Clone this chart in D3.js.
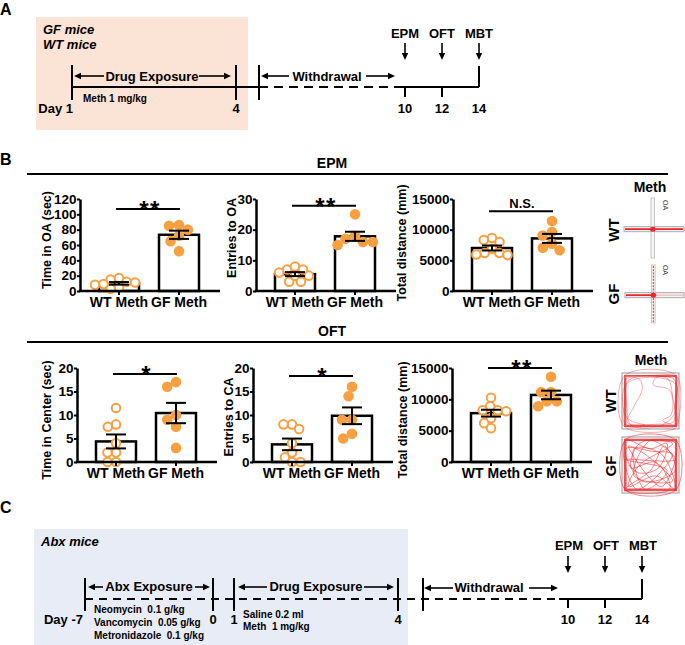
<!DOCTYPE html>
<html><head><meta charset="utf-8">
<script src="https://cdn.jsdelivr.net/npm/d3@7"></script>
<style>
body{margin:0;background:#fff}
svg{display:block;font-family:"Liberation Sans",Arial,sans-serif;font-weight:bold}
</style>
</head><body>
<svg id="c" width="685" height="645"></svg>
<script>
// ---------------- DATA ----------------
const groups = ["WT Meth", "GF Meth"];
// EPM
const epmTimeWT = [15, 5, 12, 8, 11, 17, 3, 9];
const epmTimeGF = [80, 85, 86, 72, 65, 52];
const epmEntriesWT = [7, 3, 6, 8, 5, 5, 7, 3];
const epmEntriesGF = [25, 18, 15, 17, 16, 16];
const epmDistWT = [8650, 8000, 8300, 6900, 6200, 6200, 5850, 5950];
const epmDistGF = [11400, 9600, 9050, 6650, 7700, 7050];
// OFT
const oftTimeWT = [11.5, 8, 7.5, 4, 2, 2, 0, 0];
const oftTimeGF = [17, 16, 9, 10, 7.5, 3];
const oftEntriesWT = [8, 0, 7, 4, 1, 8, 2, 0];
const oftEntriesGF = [16, 14, 9, 5, 9, 6];
const oftDistWT = [10250, 8250, 8100, 8250, 8900, 7000, 6200, 5400];
const oftDistGF = [13600, 11150, 11150, 8900, 9700, 9700];
// tick labels
const ticksTimeOA = [0, 20, 40, 60, 80, 100, 120];
const ticksEntriesOA = [0, 10, 20, 30];
const ticksDistance = [0, 5000, 10000, 15000];
const ticksTimeCenter = [0, 5, 10, 15, 20];
const ticksEntriesCA = [0, 5, 10, 15, 20];
// significance
const sigLabels = ["**", "**", "N.S.", "*", "*", "**"];
const sigLevels = [107, 27.8, 13000, 18.7, 18.3, 15000];
// timelines
const daysA = [1, 4, 10, 12, 14];
const daysC = [-7, 0, 1, 4, 10, 12, 14];
const tests = ["EPM", "OFT", "MBT"];
const testDays = [10, 12, 14];

// ---------------- SETUP ----------------
const svg = d3.select("#c");
const ORANGE = "#f6a041";
const RED = "#e8262b";

function txt(x, y, s, size, opts = {}) {
  const t = svg.append("text").attr("x", x).attr("y", y).text(s)
    .attr("font-size", size).attr("fill", opts.fill || "#000")
    .attr("text-anchor", opts.anchor || "start");
  if (opts.italic) t.attr("font-style", "italic");
  if (opts.weight) t.attr("font-weight", opts.weight);
  if (opts.rotate) t.attr("transform", `rotate(${opts.rotate},${x},${y})`);
  if (opts.ls) t.attr("letter-spacing", opts.ls);
  return t;
}
function line(x1, y1, x2, y2, w = 2, dash = null, color = "#000") {
  const l = svg.append("line").attr("x1", x1).attr("y1", y1).attr("x2", x2).attr("y2", y2)
    .attr("stroke", color).attr("stroke-width", w);
  if (dash) l.attr("stroke-dasharray", dash);
  return l;
}
function hArrow(xs, xe, y) {
  const dir = Math.sign(xe - xs);
  line(xs, y, xe - dir * 5, y, 1.6);
  svg.append("path").attr("d", `M${xe},${y} L${xe - dir * 7},${y - 3.2} L${xe - dir * 7},${y + 3.2} Z`).attr("fill", "#000");
}
function vArrow(x, ys, ye) {
  line(x, ys, x, ye - 5, 1.6);
  svg.append("path").attr("d", `M${x},${ye} L${x - 3.2},${ye - 7} L${x + 3.2},${ye - 7} Z`).attr("fill", "#000");
}

// ---------------- PANEL A ----------------
txt(0, 15, "A", 16);
svg.append("rect").attr("x", 36).attr("y", 17).attr("width", 212).attr("height", 113).attr("fill", "#fbe3d5");
txt(43, 34, "GF mice", 13, { italic: true });
txt(43, 49, "WT mice", 13, { italic: true });

const xA = d3.scaleLinear().domain([1, 4, 10, 14]).range([72, 236, 405, 479]);
const yA = 87;
const wdA = xA(4) + 23;
line(xA(1), yA, wdA, yA, 2);
line(wdA, yA, xA(10) - 10, yA, 2, "9,6");
line(xA(10) - 10, yA, xA(14), yA, 2);
[xA(1), xA(4), wdA].forEach(x => line(x, 65, x, 100, 2));
line(xA(14), 66, xA(14), yA, 2);
[10, 12].forEach(d => line(xA(d), yA, xA(d), 97, 2));
daysA.forEach(d => {
  if (d === 1) txt(xA(d) + 1, 113, "Day 1", 13, { anchor: "end" });
  else txt(xA(d), 113, String(d), 13, { anchor: "middle" });
});
hArrow(104, 74, 76);
txt(152, 81, "Drug Exposure", 13, { anchor: "middle" });
hArrow(199, 231, 76);
hArrow(289, 261, 76);
txt(327, 81, "Withdrawal", 13, { anchor: "middle" });
hArrow(366, 395, 76);
txt(83, 102, "Meth 1 mg/kg", 10);
tests.forEach((t, i) => {
  txt(xA(testDays[i]), 38, t, 13, { anchor: "middle" });
  vArrow(xA(testDays[i]), 43, 60);
});

// ---------------- PANEL B ----------------
txt(0, 165, "B", 16);
line(27, 174, 668, 174, 2);
txt(332, 168, "EPM", 14, { anchor: "middle" });
line(27, 342, 668, 342, 2);
txt(332, 336, "OFT", 14, { anchor: "middle" });

function swarm(vals, y, D) {
  const pts = vals.map(v => ({ v, py: y(v) }));
  const order = pts.slice().sort((a, b) => a.py - b.py);
  const placed = [];
  order.forEach(p => {
    const cands = [0];
    placed.forEach(q => {
      const dy = p.py - q.py;
      if (Math.abs(dy) < D) {
        const dx = Math.sqrt(D * D - dy * dy);
        cands.push(q.dx + dx, q.dx - dx);
      }
    });
    const ok = cands.filter(c => placed.every(q => (c - q.dx) ** 2 + (p.py - q.py) ** 2 >= D * D - 0.01));
    ok.sort((a, b) => Math.abs(a) - Math.abs(b) || a - b);
    p.dx = ok[0];
    placed.push(p);
  });
  return pts;
}

function barChart(c) {
  const top = c.ticks[c.ticks.length - 1];
  const y = d3.scaleLinear().domain([0, top]).range([c.y0, c.yTop]);
  const x = d3.scalePoint().domain(groups).range([c.x0 + 39, c.x0 + 99]);
  const g = svg.append("g");
  const stats = [c.wt, c.gf].map((v, i) => ({
    name: groups[i], vals: v, mean: d3.mean(v), sem: d3.deviation(v) / Math.sqrt(v.length)
  }));
  g.selectAll("rect.bar").data(stats).join("rect").attr("class", "bar")
    .attr("x", d => x(d.name) - 20).attr("width", 40)
    .attr("y", d => y(d.mean)).attr("height", d => c.y0 - y(d.mean))
    .attr("fill", "#fff").attr("stroke", "#000").attr("stroke-width", 2.5);
  const wtPts = swarm(c.wt, y, 8.5);
  const gfPts = swarm(c.gf, y, 10);
  g.selectAll("circle.wt").data(wtPts).join("circle").attr("class", "wt")
    .attr("cx", d => x(groups[0]) + d.dx).attr("cy", d => d.py).attr("r", 4.3)
    .attr("fill", "#fff").attr("stroke", ORANGE).attr("stroke-width", 2);
  g.selectAll("circle.gf").data(gfPts).join("circle").attr("class", "gf")
    .attr("cx", d => x(groups[1]) + d.dx).attr("cy", d => d.py).attr("r", 5.3)
    .attr("fill", ORANGE);
  stats.forEach(s => {
    const cx = x(s.name);
    line(cx, y(s.mean + s.sem), cx, y(s.mean - s.sem), 2);
    line(cx - 10, y(s.mean + s.sem), cx + 10, y(s.mean + s.sem), 2);
    line(cx - 10, y(s.mean - s.sem), cx + 10, y(s.mean - s.sem), 2);
  });
  const ya = g.append("g").attr("transform", `translate(${c.x0},0)`)
    .call(d3.axisLeft(y).tickValues(c.ticks).tickSize(3).tickSizeOuter(0).tickPadding(0.5).tickFormat(d3.format("d")));
  ya.select(".domain").attr("stroke-width", 2.5);
  ya.selectAll(".tick line").attr("stroke-width", 2);
  ya.selectAll(".tick text").attr("font-size", 13.5).attr("font-family", "Liberation Sans, Arial").attr("font-weight", "bold").attr("fill", "#000");
  line(c.x0 - 1.25, c.y0, c.x0 + 140, c.y0, 2.5);
  groups.forEach(gn => {
    line(x(gn), c.y0, x(gn), c.y0 + 4, 2);
    txt(x(gn), c.y0 + 16, gn, 14, { anchor: "middle" });
  });
  txt(c.titleX, c.titleY, c.title, 12.5, { anchor: "middle", rotate: -90 });
  const sy = y(c.sigVal);
  line(x(groups[0]) - 3, sy, x(groups[1]) + 1, sy, 2);
  const mid = (x(groups[0]) + x(groups[1])) / 2;
  if (c.sig === "N.S.") txt(mid, sy - 3.5, c.sig, 13, { anchor: "middle" });
  else txt(mid + (c.sig.length > 1 ? 1 : 0), sy + 9, c.sig, 24, { anchor: "middle", ls: c.sig.length > 1 ? 1.5 : 0 });
}

const charts = [
  { x0: 80, y0: 291, yTop: 199, wt: epmTimeWT, gf: epmTimeGF, ticks: ticksTimeOA, title: "Time in OA (sec)", titleX: 51, titleY: 240 },
  { x0: 256, y0: 291, yTop: 199, wt: epmEntriesWT, gf: epmEntriesGF, ticks: ticksEntriesOA, title: "Entries to OA", titleX: 236, titleY: 238 },
  { x0: 453, y0: 291, yTop: 199, wt: epmDistWT, gf: epmDistGF, ticks: ticksDistance, title: "Total distance (mm)", titleX: 406, titleY: 243 },
  { x0: 77, y0: 462, yTop: 368, wt: oftTimeWT, gf: oftTimeGF, ticks: ticksTimeCenter, title: "Time in Center (sec)", titleX: 51, titleY: 420 },
  { x0: 253, y0: 462, yTop: 368, wt: oftEntriesWT, gf: oftEntriesGF, ticks: ticksEntriesCA, title: "Entries to CA", titleX: 233, titleY: 417 },
  { x0: 452, y0: 462, yTop: 368, wt: oftDistWT, gf: oftDistGF, ticks: ticksDistance, title: "Total distance (mm)", titleX: 407, titleY: 420 }
];
charts.forEach((c, i) => barChart(Object.assign(c, { sig: sigLabels[i], sigVal: sigLevels[i] })));

// ---------- trace illustrations ----------
txt(650, 192, "Meth", 14, { anchor: "middle" });
txt(619, 230, "WT", 15, { anchor: "middle", rotate: -90 });
txt(619, 294, "GF", 15, { anchor: "middle", rotate: -90 });
const plusArm = [[0, 0.5], [1, 0.5]];
const mazeWT = { x: 624, y: 198, w: 60, h: 60 };
const mazeGF = { x: 625, y: 265, w: 59, h: 58 };
function plusMaze(m, vertRed, oaY) {
  const sx = d3.scaleLinear().domain([0, 1]).range([m.x, m.x + m.w]);
  const sy = d3.scaleLinear().domain([0, 1]).range([m.y, m.y + m.h]);
  const cx = sx(0.48), cy = sy(0.52);
  svg.append("rect").attr("x", sx(0)).attr("y", cy - 2.5).attr("width", m.w).attr("height", 5)
    .attr("fill", "#f4f4f4").attr("stroke", "#aaa").attr("stroke-width", 1);
  svg.append("rect").attr("x", cx - 1.8).attr("y", sy(0)).attr("width", 3.6).attr("height", m.h)
    .attr("fill", "#f4f4f4").attr("stroke", "#bbb").attr("stroke-width", 0.8);
  svg.append("line").attr("x1", sx(plusArm[0][0]) + 1).attr("x2", vertRed ? cx + 3 : sx(plusArm[1][0]) - 1)
    .attr("y1", cy).attr("y2", cy).attr("stroke", RED).attr("stroke-width", 1.8);
  if (vertRed) {
    svg.append("line").attr("x1", cx).attr("x2", cx).attr("y1", sy(0) + 1).attr("y2", sy(1) - 1)
      .attr("stroke", RED).attr("stroke-width", 1).attr("stroke-dasharray", "2,1.2");
    svg.append("line").attr("x1", cx + 3).attr("x2", sx(1) - 1).attr("y1", cy).attr("y2", cy)
      .attr("stroke", RED).attr("stroke-width", 0.7).attr("opacity", 0.5);
  }
  svg.append("circle").attr("cx", cx).attr("cy", cy).attr("r", 2.6).attr("fill", RED);
  txt(cx + 10, oaY, "OA", 7, { anchor: "middle", rotate: 90, weight: "normal", fill: "#333" });
}
plusMaze(mazeWT, false, 205);
plusMaze(mazeGF, true, 270);

txt(651, 365, "Meth", 14, { anchor: "middle" });
txt(616, 401, "WT", 15, { anchor: "middle", rotate: -90 });
txt(616, 466, "GF", 15, { anchor: "middle", rotate: -90 });
const pathWT = [[0.04,0.05],[0.5,0.03],[0.96,0.05],[0.97,0.5],[0.95,0.96],[0.5,0.97],[0.04,0.95],[0.03,0.5],[0.06,0.08],[0.3,0.1],[0.35,0.28],[0.2,0.6],[0.08,0.9],[0.6,0.93],[0.92,0.88],[0.9,0.4],[0.8,0.08],[0.1,0.12],[0.07,0.6],[0.15,0.95],[0.7,0.95],[0.95,0.7],[0.93,0.1],[0.6,0.07],[0.55,0.2],[0.85,0.3],[0.88,0.75],[0.72,0.86],[0.92,0.95],[0.97,0.97],[0.97,0.03],[0.03,0.03],[0.02,0.97],[0.98,0.98],[0.94,0.6],[0.97,0.2],[0.5,0.06],[0.05,0.2],[0.06,0.8],[0.4,0.94]];
const pathGF = [[0.05,0.05],[0.9,0.1],[0.3,0.5],[0.1,0.9],[0.6,0.7],[0.95,0.95],[0.7,0.3],[0.2,0.2],[0.4,0.95],[0.8,0.6],[0.05,0.4],[0.95,0.4],[0.5,0.05],[0.2,0.7],[0.9,0.8],[0.4,0.3],[0.1,0.15],[0.7,0.9],[0.96,0.1],[0.3,0.1],[0.15,0.55],[0.6,0.45],[0.85,0.95],[0.04,0.96],[0.5,0.6],[0.75,0.15],[0.95,0.6],[0.35,0.8],[0.05,0.2],[0.55,0.25],[0.9,0.3],[0.25,0.95],[0.04,0.04],[0.96,0.04],[0.96,0.96],[0.04,0.96],[0.04,0.05],[0.5,0.2],[0.8,0.1],[0.65,0.55],[0.3,0.65],[0.1,0.5]];
const perim = [[0.03,0.03],[0.97,0.03],[0.97,0.97],[0.03,0.97],[0.03,0.03],[0.96,0.05],[0.95,0.95],[0.05,0.95],[0.05,0.05]];
function oftBox(bx, by, pts, dense) {
  const sx = d3.scaleLinear().domain([0, 1]).range([bx + 1, bx + 56]);
  const sy = d3.scaleLinear().domain([0, 1]).range([by + 1, by + 55]);
  const ln = d3.line().x(d => sx(d[0])).y(d => sy(d[1])).curve(d3.curveCatmullRom.alpha(0.5));
  svg.append("rect").attr("x", bx).attr("y", by).attr("width", 57).attr("height", 56)
    .attr("fill", "#fff").attr("stroke", "#aaa").attr("stroke-width", 1.2);
  svg.append("path").attr("d", d3.line().x(d => sx(d[0])).y(d => sy(d[1]))(perim))
    .attr("fill", "none").attr("stroke", RED).attr("stroke-width", dense ? 1.6 : 1.2).attr("opacity", 0.8);
  svg.append("path").attr("d", ln(pts)).attr("fill", "none").attr("stroke", RED)
    .attr("stroke-width", dense ? 0.8 : 0.55).attr("opacity", 0.7);
}
oftBox(622, 373, pathWT, false);
oftBox(622, 437, pathGF, true);

// ---------------- PANEL C ----------------
txt(0, 513, "C", 16);
svg.append("rect").attr("x", 34).attr("y", 529).attr("width", 374).attr("height", 116).attr("fill", "#e8ecf6");
txt(41, 546, "Abx mice", 13, { italic: true });
const xC = d3.scaleLinear().domain([-7, 0, 1, 4, 10, 14]).range([85, 213, 234, 398, 568, 642]);
const yC = 599;
const wdC = xC(4) + 25;
line(xC(-7), yC, xC(10) - 9, yC, 2, "8,6");
line(xC(10) - 9, yC, xC(14), yC, 2);
[xC(-7), xC(0), xC(1), xC(4), wdC].forEach(x => line(x, 578, x, 611, 2));
line(xC(14), 579, xC(14), yC, 2);
[10, 12].forEach(d => line(xC(d), yC, xC(d), 608, 2));
daysC.forEach(d => {
  if (d === -7) txt(xC(d) - 2, 624, "Day -7", 13, { anchor: "end" });
  else txt(xC(d), 624, String(d), 13, { anchor: "middle" });
});
hArrow(103, 88, 587);
txt(149, 591, "Abx Exposure", 13, { anchor: "middle" });
hArrow(195, 210, 587);
hArrow(267, 238, 587);
txt(316, 591, "Drug Exposure", 13, { anchor: "middle" });
hArrow(364, 394, 587);
hArrow(453, 424, 588);
txt(489, 592, "Withdrawal", 13, { anchor: "middle" });
hArrow(529, 558, 588);
txt(94, 613, "Neomycin\u00a0 0.1 g/kg", 10);
txt(94, 626, "Vancomycin\u00a0 0.05 g/kg", 10);
txt(94, 639, "Metronidazole\u00a0 0.1 g/kg", 10);
txt(243, 618, "Saline 0.2 ml", 10);
txt(243, 630, "Meth\u00a0 1 mg/kg", 10);
tests.forEach((t, i) => {
  txt(xC(testDays[i]) + 1, 550, t, 13, { anchor: "middle" });
  vArrow(xC(testDays[i]), 556, 573);
});
</script>
</body></html>
